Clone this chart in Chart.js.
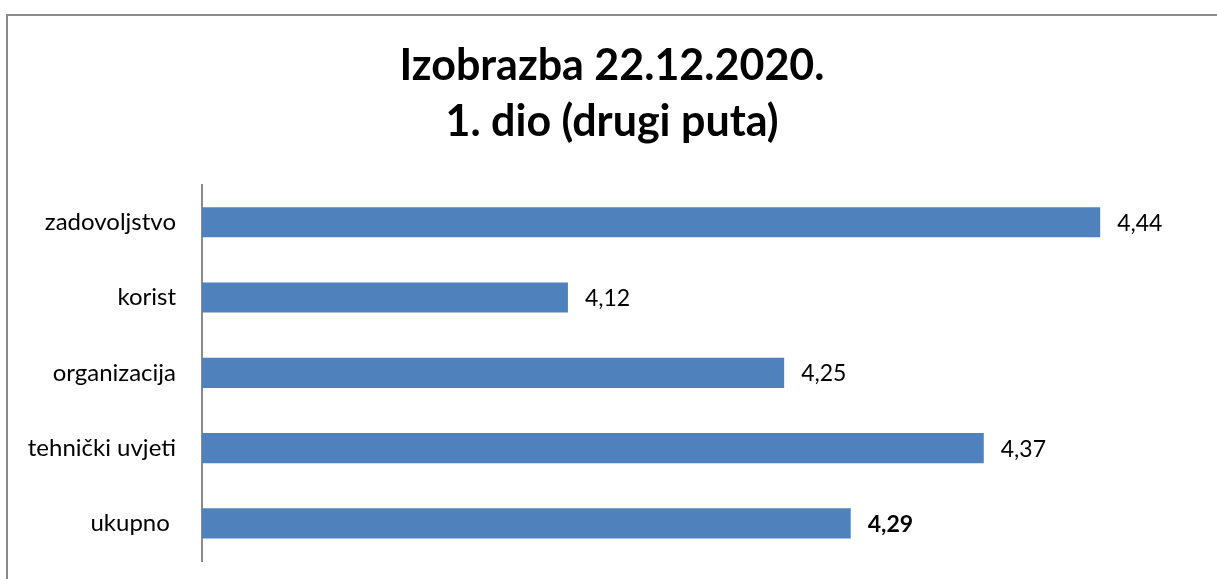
<!DOCTYPE html>
<html>
<head>
<meta charset="utf-8">
<script src="https://cdn.jsdelivr.net/npm/chart.js@4"></script>
<style>
  html, body { margin: 0; padding: 0; background: #fff; overflow: hidden; }
  #wrap { position: absolute; left: 0; top: 0; width: 1217px; height: 579px; }
</style>
</head>
<body>
<div id="wrap"><canvas id="chart"></canvas></div>
<script>
const categories = ["zadovoljstvo", "korist", "organizacija", "tehnički uvjeti", "ukupno "];
const scores = [4.44, 4.12, 4.25, 4.37, 4.29];
const titleLines = ["Izobrazba 22.12.2020.", "1. dio (drugi puta)"];
const boldIndex = 4; // the total is printed in bold

// frame around the chart (clipped on the right and bottom like the source)
const framePlugin = {
    id: 'frame',
    beforeDraw(chart) {
        const ctx = chart.ctx;
        ctx.save();
        ctx.strokeStyle = '#8a8a8a';
        ctx.lineWidth = 2;
        ctx.beginPath();
        ctx.moveTo(7, chart.height);
        ctx.lineTo(7, 15);
        ctx.lineTo(chart.width, 15);
        ctx.stroke();
        ctx.restore();
    }
};

// value labels next to the bars, comma decimals
const valueLabels = {
    id: 'valueLabels',
    afterDatasetsDraw(chart) {
        const ctx = chart.ctx;
        const meta = chart.getDatasetMeta(0);
        ctx.save();
        ctx.fillStyle = '#000';
        ctx.textBaseline = 'middle';
        ctx.textAlign = 'left';
        meta.data.forEach((bar, i) => {
            ctx.font = (i === boldIndex ? 'bold ' : '') + '23px Lato';
            ctx.fillText(scores[i].toFixed(2).replace('.', ','), bar.x + 17, bar.y + 1);
        });
        ctx.restore();
    }
};

new Chart(document.getElementById('chart'), {
    type: 'bar',
    data: {
        labels: categories,
        datasets: [{
            data: scores,
            backgroundColor: '#4f81bd',
            borderWidth: 0,
            categoryPercentage: 1,
            barPercentage: 0.4
        }]
    },
    options: {
        indexAxis: 'y',
        responsive: true,
        maintainAspectRatio: false,
        animation: false,
        layout: { padding: { top: 0, right: 17, bottom: 18, left: 24 } },
        plugins: {
            legend: { display: false },
            tooltip: { enabled: false },
            title: {
                display: true,
                text: titleLines,
                color: '#000',
                font: { family: 'Lato', size: 43, weight: 'bold', lineHeight: 1.31 },
                padding: { top: 38, bottom: 34 }
            }
        },
        scales: {
            x: { display: false, min: 3.9, max: 4.5 },
            y: {
                grid: { display: false, drawTicks: false },
                border: { display: true, color: '#8a8a8a', width: 2 },
                ticks: { color: '#000', padding: 26, font: { family: 'Lato', size: 24 } },
                afterFit(scale) {
                    scale.width = 178;
                    scale.paddingTop = 0;
                    scale.paddingBottom = 0;
                }
            }
        }
    },
    plugins: [framePlugin, valueLabels]
});
</script>
</body>
</html>
